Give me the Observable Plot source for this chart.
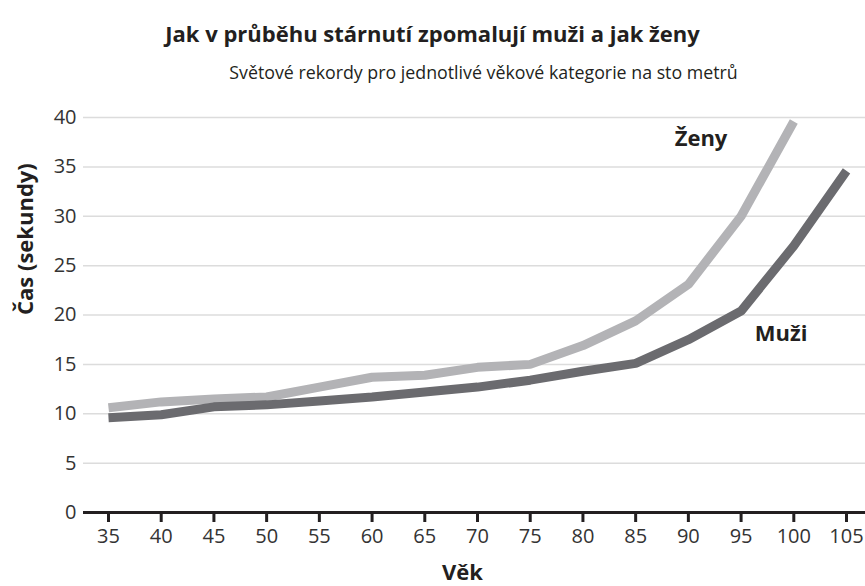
<!DOCTYPE html>
<html>
<head>
<meta charset="utf-8">
<script src="https://cdn.jsdelivr.net/npm/d3@7"></script>
<script src="https://cdn.jsdelivr.net/npm/@observablehq/plot@0.6"></script>
<style>
  body { margin: 0; background: #fff; font-family: "Open Sans", sans-serif; }
  #wrap { width: 865px; height: 586px; position: relative; overflow: hidden; }
  .title { font-size: 22px; font-weight: bold; color: #231f20; text-align: center; line-height: 26px; padding-top: 20px; }
  .subtitle { font-size: 17.8px; color: #231f20; text-align: center; line-height: 22px; margin-top: 15px; padding-left: 102px; }
  svg { display: block; }
  g[aria-label$="tick label"] { font-size: 20px; }
</style>
</head>
<body>
<div id="wrap">
  <div class="title">Jak v průběhu stárnutí zpomalují muži a jak ženy</div>
  <div class="subtitle">Světové rekordy pro jednotlivé věkové kategorie na sto metrů</div>
  <div id="chart"></div>
</div>
<script>
const ages = [35, 40, 45, 50, 55, 60, 65, 70, 75, 80, 85, 90, 95, 100, 105];
const zeny = [10.6, 11.2, 11.5, 11.7, 12.7, 13.7, 13.9, 14.7, 15.0, 16.9, 19.4, 23.1, 30.0, 39.6];
const muzi = [9.6, 9.9, 10.7, 10.9, 11.3, 11.7, 12.2, 12.7, 13.4, 14.3, 15.1, 17.5, 20.4, 27.0, 34.6];
const yTicks = [0, 5, 10, 15, 20, 25, 30, 35, 40];
const seriesNames = ["Ženy", "Muži"];
const seriesColors = ["#b3b3b6", "#6b6b6f"];
const labelAge = [91.2, 98.8];
const labelTime = [37.8, 18.1];

const rows = [];
zeny.forEach((v, i) => rows.push({age: ages[i], time: v, s: seriesNames[0]}));
muzi.forEach((v, i) => rows.push({age: ages[i], time: v, s: seriesNames[1]}));
const labels = seriesNames.map((n, i) => ({name: n, age: labelAge[i], time: labelTime[i]}));

const plot = Plot.plot({
  width: 865,
  height: 503,
  marginLeft: 83,
  marginRight: 0,
  marginTop: 34,
  marginBottom: 74,
  style: {fontFamily: "'Open Sans', sans-serif", fontSize: "20px", color: "#333", background: "#fff"},
  x: {type: "linear", domain: [32.63, 106.8]},
  y: {domain: [0, 40]},
  color: {domain: seriesNames, range: seriesColors},
  marks: [
    Plot.gridY(yTicks, {stroke: "#dcdcdc", strokeOpacity: 1, strokeWidth: 1.5}),
    Plot.axisY(yTicks, {tickSize: 0, tickPadding: 7, label: null, fill: "#333", fontSize: 20}),
    Plot.axisX(ages, {tickSize: 10, tickPadding: 6, strokeWidth: 3, stroke: "#231f20", fill: "#333", fontSize: 20, label: null, tickFormat: d => String(d)}),
    Plot.ruleY([0], {stroke: "#231f20", strokeWidth: 3}),
    Plot.line(rows, {x: "age", y: "time", z: "s", stroke: "s", strokeWidth: 9, strokeLinecap: "butt", strokeLinejoin: "miter"}),
    Plot.text(labels, {x: "age", y: "time", text: "name", fontSize: 22, fontWeight: "bold", fill: "#231f20"}),
    Plot.text(["Čas (sekundy)"], {frameAnchor: "left", rotate: -90, dx: -58, fontSize: 22, fontWeight: "bold", fill: "#231f20"}),
    Plot.text(["Věk"], {frameAnchor: "bottom", dy: 67, dx: -12, fontSize: 22, fontWeight: "bold", fill: "#231f20"})
  ]
});
document.getElementById("chart").appendChild(plot);
</script>
</body>
</html>
